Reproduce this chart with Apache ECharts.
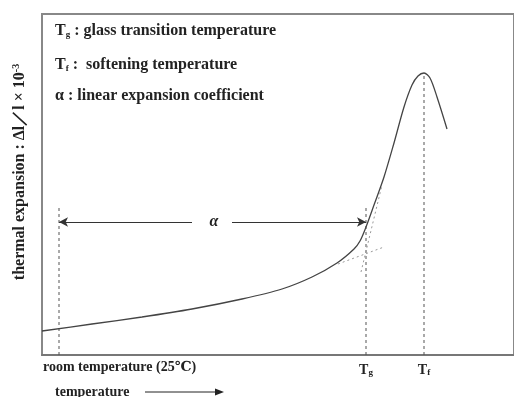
<!DOCTYPE html>
<html><head><meta charset="utf-8">
<script src="https://cdn.jsdelivr.net/npm/echarts@6/dist/echarts.min.js"></script>
<style>html,body{margin:0;padding:0;background:#fff}#c{width:514px;height:397px}</style>
</head><body><div id="c"></div>
<script>
// expansion curve (x: temperature units, y: expansion units)
const curveX = [0, 50, 100, 150, 200, 240, 270, 295, 312, 318, 324, 332, 342, 352, 362, 370, 376, 382, 388, 395, 405];
const curveY = [24, 31, 38, 46, 56, 66, 78, 92, 106, 114, 128, 150, 178, 212, 248, 270, 279, 282, 277, 258, 226];
// reference temperatures
const roomT = 17, Tg = 324, Tf = 382;
const roomTop = 150, TgTop = 150, TfTop = 282;
// alpha arrow level and gap
const alphaY = 133, gapL = 150, gapR = 190;
// tangent lines
const tan1X = [296, 342], tan1Y = [91, 108];
const tan2X = [319, 340], tan2Y = [83, 170];

const pair = (xs, ys) => xs.map((x, i) => [x, ys[i]]);
const serif = '"Liberation Serif","DejaVu Serif",serif';
const dashed = {color: '#555', width: 1, type: [3, 3]};
const dotted = {color: '#999', width: 1, type: [2, 3]};

const chart = echarts.init(document.getElementById('c'));
chart.setOption({
  animation: false,
  grid: {left: 42, top: 14, right: -3, bottom: 42, show: true, borderColor: '#888', borderWidth: 2},
  xAxis: {type: 'value', min: 0, max: 472,
    axisLine: {show: true, lineStyle: {color: '#777', width: 2}},
    axisTick: {show: false}, splitLine: {show: false},
    axisLabel: {show: true, customValues: [Tg, Tf], margin: 5,
      formatter: v => v === Tg ? '{t|T}{s|g}' : '{t|T}{s|f}',
      rich: {t: {fontFamily: serif, fontWeight: 'bold', fontSize: 14, color: '#222', verticalAlign: 'bottom', lineHeight: 17},
             s: {fontFamily: serif, fontWeight: 'bold', fontSize: 9, color: '#222', verticalAlign: 'bottom', lineHeight: 11}}}},
  yAxis: {type: 'value', min: 0, max: 341,
    axisLine: {show: true, lineStyle: {color: '#888', width: 2}},
    axisTick: {show: false}, splitLine: {show: false}, axisLabel: {show: false}},
  series: [
    {type: 'line', data: pair(curveX, curveY), smooth: 0.3, showSymbol: false,
     lineStyle: {color: '#444', width: 1.3}, z: 5},
    {type: 'line', data: [[roomT, 0], [roomT, roomTop]], showSymbol: false, lineStyle: dashed},
    {type: 'line', data: [[Tg, 0], [Tg, TgTop]], showSymbol: false, lineStyle: dashed},
    {type: 'line', data: [[Tf, 0], [Tf, TfTop]], showSymbol: false, lineStyle: dashed},
    {type: 'line', data: pair(tan1X, tan1Y), showSymbol: false, lineStyle: dotted},
    {type: 'line', data: pair(tan2X, tan2Y), showSymbol: false, lineStyle: dotted},
    {type: 'line', data: [], markLine: {silent: true, symbolSize: [7, 9], label: {show: false},
      lineStyle: {color: '#333', width: 1, type: 'solid'},
      data: [
        [{coord: [gapL, alphaY], symbol: 'none'}, {coord: [roomT, alphaY], symbol: 'arrow'}],
        [{coord: [gapR, alphaY], symbol: 'none'}, {coord: [Tg, alphaY], symbol: 'arrow'}]
      ]}}
  ],
  graphic: [
    {type: 'text', left: 55, top: 23, style: {text: '{t|T}{s|g}{t| : glass transition temperature}',
      rich: {t: {font: 'bold 16px ' + serif, fill: '#222', verticalAlign: 'bottom', lineHeight: 19},
             s: {font: 'bold 9px ' + serif, fill: '#222', verticalAlign: 'bottom', lineHeight: 12}}}},
    {type: 'text', left: 55, top: 57, style: {text: '{t|T}{s|f}{t| :  softening temperature}',
      rich: {t: {font: 'bold 16px ' + serif, fill: '#222', verticalAlign: 'bottom', lineHeight: 19},
             s: {font: 'bold 9px ' + serif, fill: '#222', verticalAlign: 'bottom', lineHeight: 12}}}},
    {type: 'text', left: 55, top: 88, style: {text: 'α : linear expansion coefficient', font: 'bold 16px ' + serif, fill: '#222'}},
    {type: 'text', x: 214, y: 222, style: {text: 'α', font: 'italic bold 16px ' + serif, fill: '#222', align: 'center', verticalAlign: 'middle'}},
    {type: 'text', left: 43, top: 360, style: {text: 'room temperature (25℃)', font: 'bold 14px ' + serif, fill: '#222'}},
    {type: 'text', left: 55, top: 385, style: {text: 'temperature', font: 'bold 14px ' + serif, fill: '#222'}},
    {type: 'line', shape: {x1: 145, y1: 392, x2: 216, y2: 392}, style: {stroke: '#222', lineWidth: 1}},
    {type: 'polygon', shape: {points: [[224, 392], [215, 388.5], [215, 395.5]]}, style: {fill: '#222'}},
    {type: 'text', x: 21, y: 172, rotation: Math.PI / 2,
      style: {text: '{t|thermal expansion : Δl／l × 10}{u|-3}', align: 'center', verticalAlign: 'middle',
        rich: {t: {font: 'bold 16px ' + serif, fill: '#222', verticalAlign: 'top', lineHeight: 19},
               u: {font: 'bold 10px ' + serif, fill: '#222', verticalAlign: 'top', lineHeight: 19}}}}
  ]
});
</script></body></html>
